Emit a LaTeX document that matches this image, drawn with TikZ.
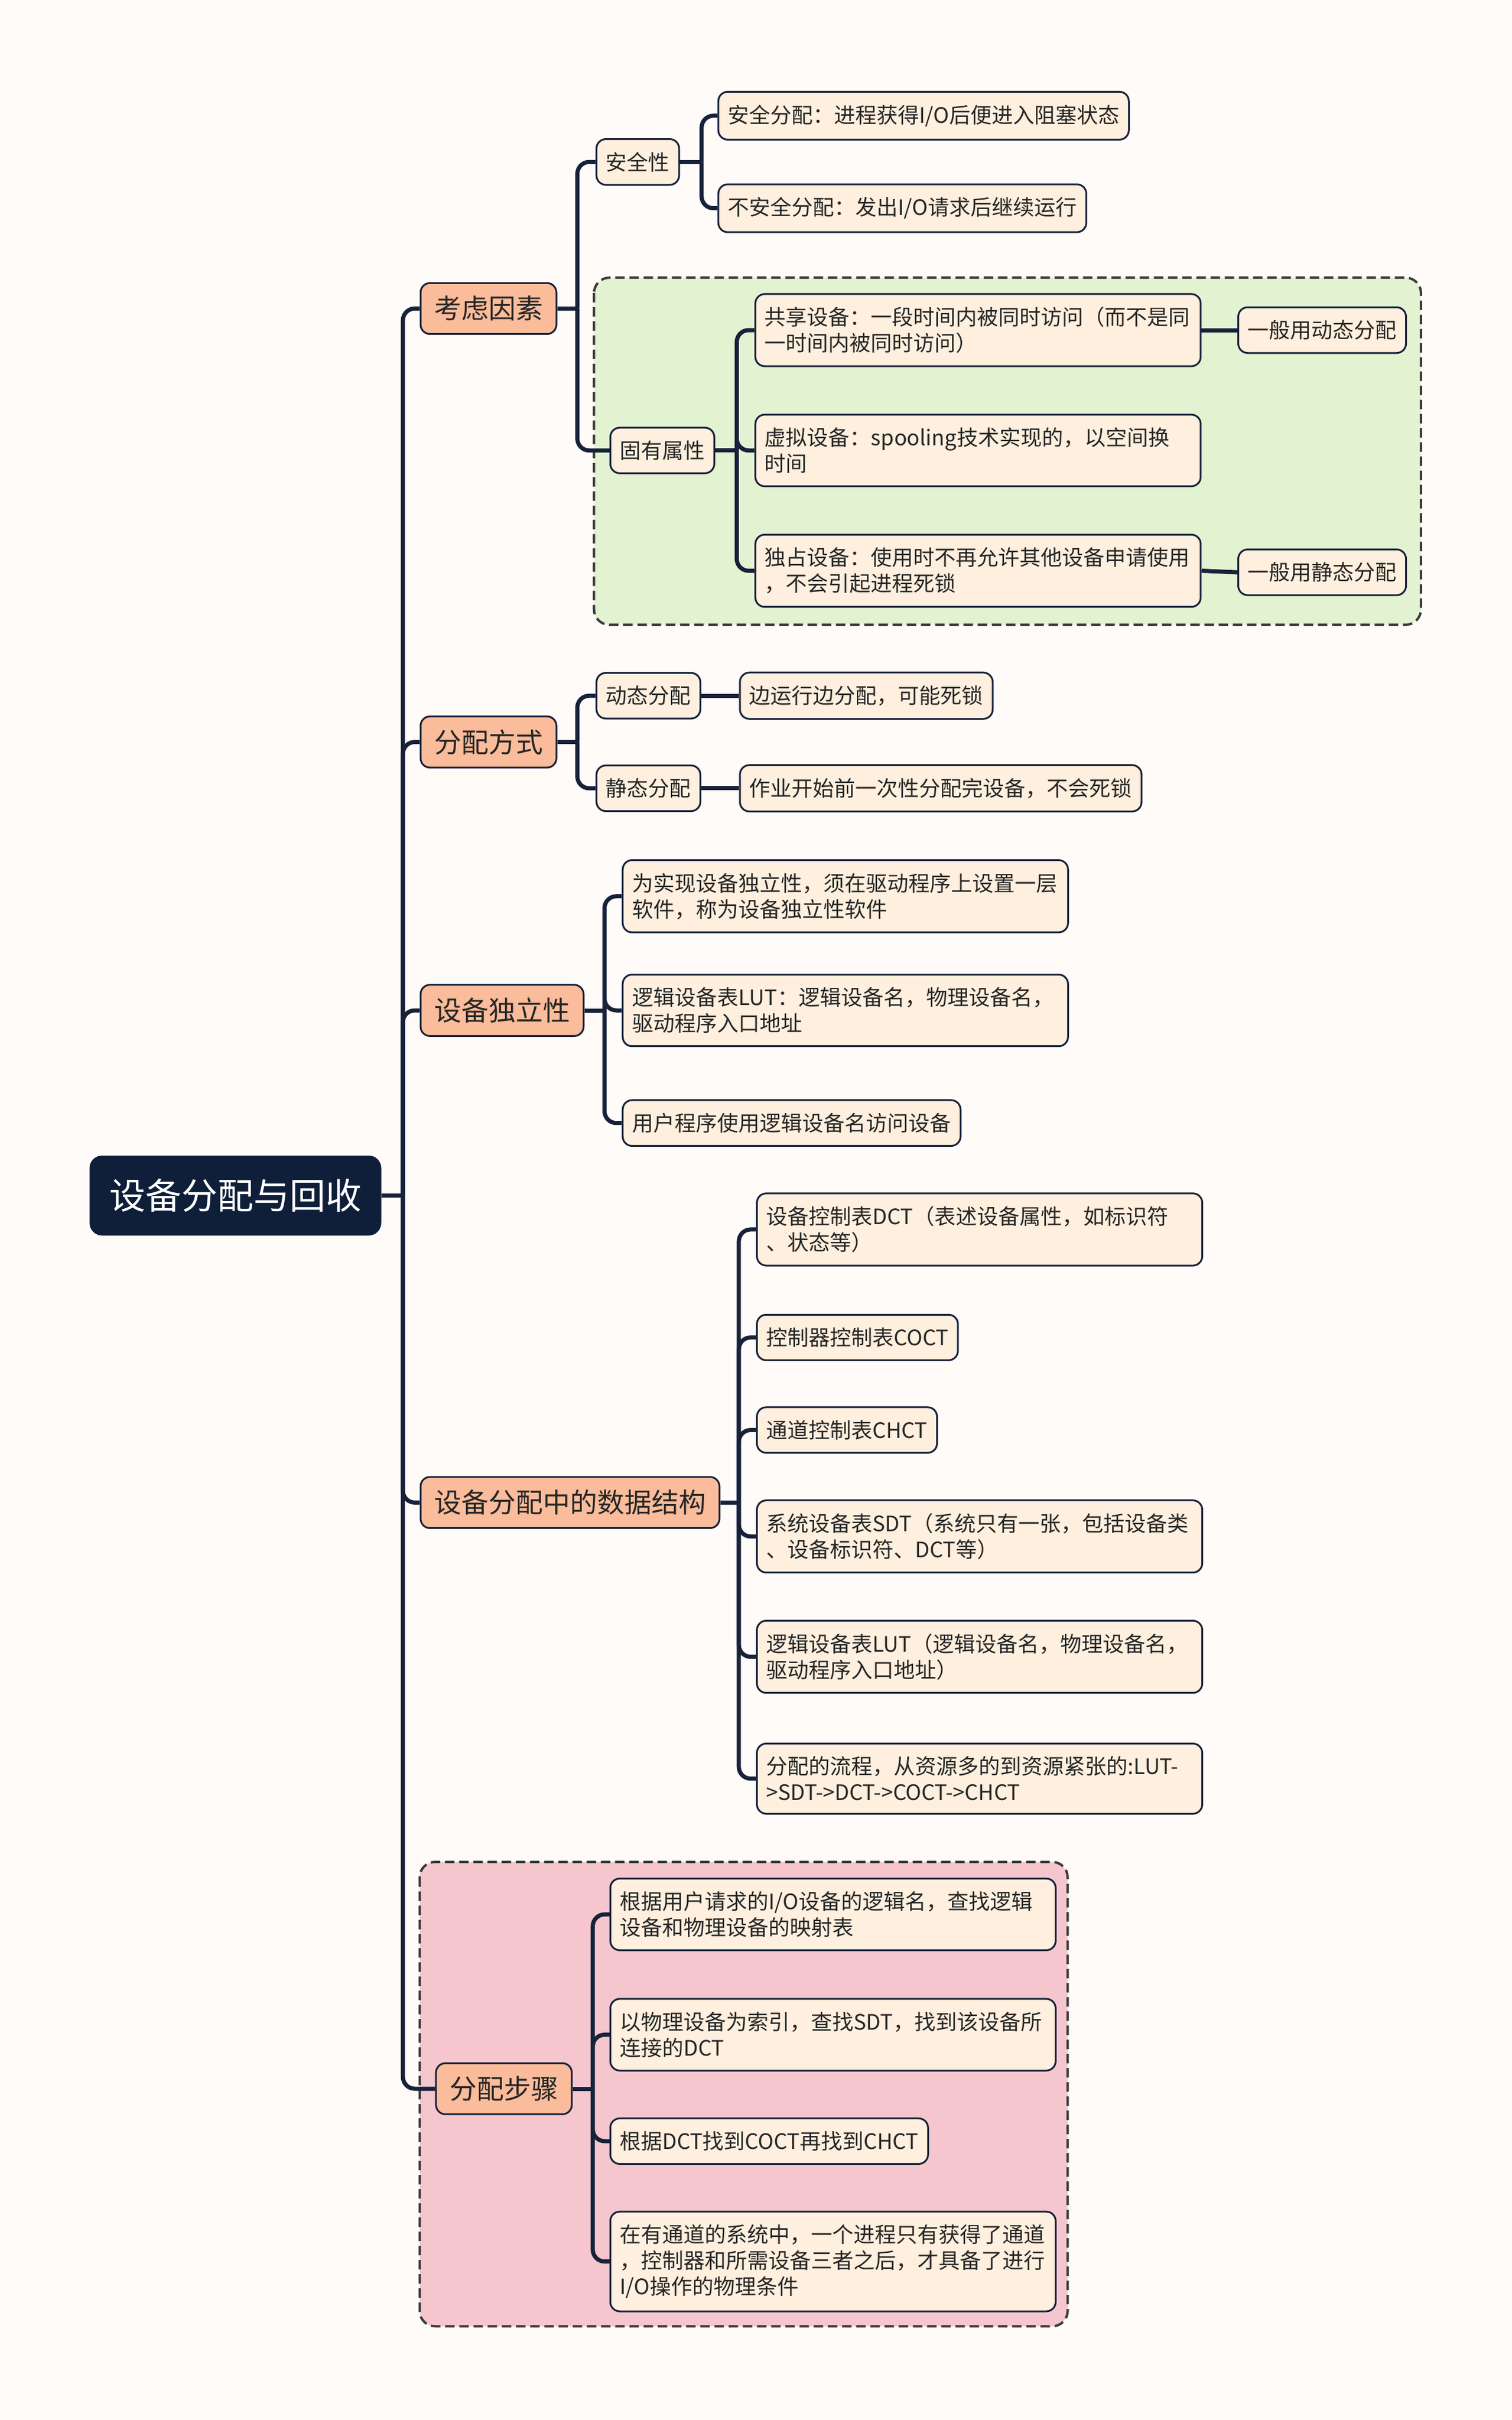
\documentclass[tikz,border=0pt]{standalone}
\usepackage{fontspec}
\setmainfont{Noto Sans CJK SC}
\usetikzlibrary{positioning}

\definecolor{bgc}{HTML}{FEFBF9}
\definecolor{rootc}{HTML}{0F1F3A}
\definecolor{topicc}{HTML}{FABC9A}
\definecolor{leafc}{HTML}{FEEFDE}
\definecolor{linec}{HTML}{17223A}
\definecolor{greenc}{HTML}{E3F2D1}
\definecolor{pinkc}{HTML}{F5C6CD}
\definecolor{dashc}{HTML}{3A3A3A}
\definecolor{txtc}{HTML}{262626}

\tikzset{
  conn/.style={draw=linec,line width=7pt},
  elbow/.style={conn,rounded corners=20pt},
  rootbox/.style={anchor=west,fill=rootc,draw=rootc,line width=3pt,rounded corners=20pt,text=white,
    font=\fontsize{61pt}{70pt}\selectfont,inner xsep=32pt,inner ysep=38pt},
  topic/.style={anchor=west,fill=topicc,draw=linec,line width=3pt,rounded corners=16pt,text=txtc,
    font=\fontsize{46pt}{54pt}\selectfont,inner xsep=23pt,inner ysep=22pt},
  leaf/.style={anchor=west,fill=leafc,draw=linec,line width=3pt,rounded corners=16pt,text=txtc,
    font=\fontsize{36pt}{44pt}\selectfont,inner xsep=16pt,inner ysep=22pt,align=left},
  leafw/.style={leaf,text width=722pt},
  groupbox/.style={draw=dashc,line width=4pt,dash pattern=on 16pt off 8pt,rounded corners=26pt}
}

\begin{document}
\begin{tikzpicture}[x=2.612pt,y=-2.612pt]
    \fill[bgc] (0,0) rectangle (980,1568.77);
    \useasboundingbox (0,0) rectangle (980,1568.77);

    \path[groupbox,fill=greenc] (385,180) rectangle (921,405);
    \path[groupbox,fill=pinkc] (272,1207) rectangle (692,1508);

    \node[rootbox] (root) at (58,775) {设备分配与回收};

    \node[topic] (kaolv) at (272,200) {考虑因素};
    \node[topic] (fangshi) at (272,481) {分配方式};
    \node[topic] (duli) at (272,655) {设备独立性};
    \node[topic] (shuju) at (272,974) {设备分配中的数据结构};
    \node[topic] (buzhou) at (282,1354) {分配步骤};

    \node[leaf] (anquan) at (386,105) {安全性};
    \node[leaf] (aq1) at (465,75) {安全分配：进程获得I/O后便进入阻塞状态};
    \node[leaf] (aq2) at (465,135) {不安全分配：发出I/O请求后继续运行};

    \node[leaf] (guyou) at (395,292) {固有属性};
    \node[leafw] (gongxiang) at (489,214) {共享设备：一段时间内被同时访问（而不是同\\一时间内被同时访问）};
    \node[leaf] (gxfp) at (802,214) {一般用动态分配};
    \node[leafw] (xuni) at (489,292) {虚拟设备：spooling技术实现的，以空间换\\时间};
    \node[leafw] (duzhan) at (489,370) {独占设备：使用时不再允许其他设备申请使用\\，不会引起进程死锁};
    \node[leaf] (dzfp) at (802,371) {一般用静态分配};

    \node[leaf] (dongtai) at (386,451) {动态分配};
    \node[leaf] (dt1) at (479,451) {边运行边分配，可能死锁};
    \node[leaf] (jingtai) at (386,511) {静态分配};
    \node[leaf] (jt1) at (479,511) {作业开始前一次性分配完设备，不会死锁};

    \node[leafw] (dl1) at (403,581) {为实现设备独立性，须在驱动程序上设置一层\\软件，称为设备独立性软件};
    \node[leafw] (dl2) at (403,655) {逻辑设备表LUT：逻辑设备名，物理设备名，\\驱动程序入口地址};
    \node[leaf] (dl3) at (403,728) {用户程序使用逻辑设备名访问设备};

    \node[leafw] (sj1) at (490,797) {设备控制表DCT（表述设备属性，如标识符\\、状态等）};
    \node[leaf] (sj2) at (490,867) {控制器控制表COCT};
    \node[leaf] (sj3) at (490,927) {通道控制表CHCT};
    \node[leafw] (sj4) at (490,996) {系统设备表SDT（系统只有一张，包括设备类\\、设备标识符、DCT等）};
    \node[leafw] (sj5) at (490,1074) {逻辑设备表LUT（逻辑设备名，物理设备名，\\驱动程序入口地址）};
    \node[leafw] (sj6) at (490,1153) {分配的流程，从资源多的到资源紧张的:LUT-\\>SDT->DCT->COCT->CHCT};

    \node[leafw] (bz1) at (395,1241) {根据用户请求的I/O设备的逻辑名，查找逻辑\\设备和物理设备的映射表};
    \node[leafw] (bz2) at (395,1319) {以物理设备为索引，查找SDT，找到该设备所\\连接的DCT};
    \node[leaf] (bz3) at (395,1388) {根据DCT找到COCT再找到CHCT};
    \node[leafw] (bz4) at (395,1466) {在有通道的系统中，一个进程只有获得了通道\\，控制器和所需设备三者之后，才具备了进行\\I/O操作的物理条件};

    \draw[conn] (root.east) -- ++(14,0) coordinate (t0);
    \foreach \n in {kaolv,fangshi,duli,shuju,buzhou}
        \draw[elbow] (t0) |- (\n.west);

    \draw[conn] (kaolv.east) -- ++(13,0) coordinate (t1);
    \foreach \n in {anquan,guyou}
        \draw[elbow] (t1) |- (\n.west);

    \draw[conn] (anquan.east) -- ++(14,0) coordinate (t2);
    \foreach \n in {aq1,aq2}
        \draw[elbow] (t2) |- (\n.west);

    \draw[conn] (guyou.east) -- ++(14,0) coordinate (t3);
    \foreach \n in {gongxiang,xuni,duzhan}
        \draw[elbow] (t3) |- (\n.west);
    \draw[conn] (gongxiang.east) -- (gxfp.west);
    \draw[conn] (duzhan.east) -- (dzfp.west);

    \draw[conn] (fangshi.east) -- ++(13,0) coordinate (t4);
    \foreach \n in {dongtai,jingtai}
        \draw[elbow] (t4) |- (\n.west);
    \draw[conn] (dongtai.east) -- (dt1.west);
    \draw[conn] (jingtai.east) -- (jt1.west);

    \draw[conn] (duli.east) -- ++(13,0) coordinate (t5);
    \foreach \n in {dl1,dl2,dl3}
        \draw[elbow] (t5) |- (\n.west);

    \draw[conn] (shuju.east) -- ++(12,0) coordinate (t6);
    \foreach \n in {sj1,sj2,sj3,sj4,sj5,sj6}
        \draw[elbow] (t6) |- (\n.west);

    \draw[conn] (buzhou.east) -- ++(13,0) coordinate (t7);
    \foreach \n in {bz1,bz2,bz3,bz4}
        \draw[elbow] (t7) |- (\n.west);
\end{tikzpicture}
\end{document}
